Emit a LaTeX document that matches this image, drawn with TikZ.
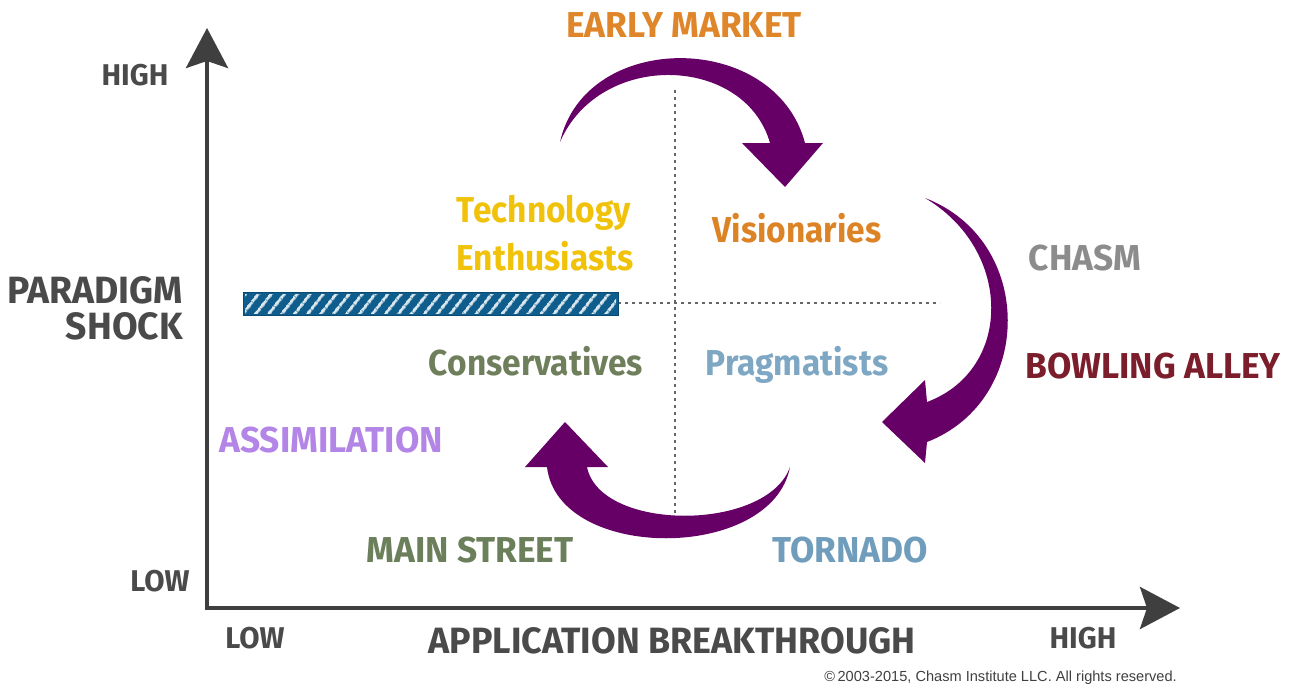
\documentclass[tikz,border=0pt]{standalone}
\usepackage{fontspec}
\setmainfont{Fira Sans}[FakeStretch=0.93]
\newfontfamily\capfont{Fira Sans}[FakeStretch=0.98]
\newfontfamily\copyfont{Liberation Sans}
\usetikzlibrary{arrows.meta,patterns.meta}
\definecolor{axisgray}{HTML}{3F3F3F}
\definecolor{lblgray}{HTML}{4A4A4A}
\definecolor{cEarly}{HTML}{E0862A}
\definecolor{cTech}{HTML}{F0C20A}
\definecolor{cVis}{HTML}{DC8326}
\definecolor{cChasm}{HTML}{8C8C8C}
\definecolor{cBowl}{HTML}{7B1D2B}
\definecolor{cCons}{HTML}{6F7F5C}
\definecolor{cPrag}{HTML}{7EA7C4}
\definecolor{cAssim}{HTML}{B385E6}
\definecolor{cMain}{HTML}{6B7F5B}
\definecolor{cTorn}{HTML}{6F9DBB}
\definecolor{cPurple}{HTML}{660066}
\definecolor{cBar}{HTML}{0E5D8C}
\begin{document}
\begin{tikzpicture}[x=1pt,y=-1pt,
  lbl/.style={font=\bfseries\fontsize{36}{36}\selectfont, anchor=base, inner sep=0pt},
  caplbl/.style={font=\capfont\bfseries\fontsize{36}{36}\selectfont, anchor=base, inner sep=0pt},
  axlbl/.style={font=\capfont\bfseries\fontsize{30}{30}\selectfont, anchor=base, inner sep=0pt, text=lblgray},
  biglbl/.style={font=\capfont\bfseries\fontsize{38}{38}\selectfont, anchor=base, inner sep=0pt, text=lblgray},
  axisline/.style={line width=4pt, draw=axisgray, -{Stealth[length=40pt,width=42pt,inset=7pt]}},
  dotline/.style={draw=gray!80!black, line width=2.6pt, dash pattern=on 2.6pt off 4.4pt},
  cyclearrow/.style={fill=cPurple}]
\useasboundingbox (0,0) rectangle (1294,696);

% dotted quadrant lines
\coordinate (vtop) at (675,90);
\coordinate (vbot) at (675,525);
\coordinate (hleft) at (618,303);
\coordinate (hright) at (940,303);
\draw[dotline] (vtop) -- (vbot);
\draw[dotline] (hleft) -- (hright);

% hatched bar
\fill[cBar] (243,292) rectangle (618,315);
\fill[pattern={Lines[angle=52,distance=10.5pt,line width=3.2pt]}, pattern color=white!85!cBar] (245,294) rectangle (616,313);
\draw[cBar!80!black, line width=1pt] (243,292) rectangle (618,315);

% axes
\coordinate (origin) at (207,608);
\coordinate (ytip) at (207,28);
\coordinate (xstart) at (205,608);
\coordinate (xtip) at (1180,608);
\draw[axisline] (origin) -- (ytip);
\draw[axisline] (xstart) -- (xtip);

% cycle arrows
\fill[cyclearrow] (560,142) .. controls (585,30) and (775,30) .. (805,143)
  -- (823,143) -- (785,187) -- (742,143) -- (770,143)
  .. controls (745,55) and (600,50) .. (560,142) -- cycle;
\fill[cyclearrow] (925,198) .. controls (1035,240) and (1035,400) .. (927,442)
  -- (925,463) -- (882,422) -- (925,380) -- (927,402)
  .. controls (1013,370) and (1013,250) .. (925,198) -- cycle;
\fill[cyclearrow] (790,467) .. controls (772,562) and (558,562) .. (547,467)
  -- (525,467) -- (565,422) -- (608,467) -- (587,467)
  .. controls (600,532) and (767,532) .. (790,467) -- cycle;

% axis labels
\node[axlbl] (yhigh) at (135,85) {HIGH};
\node[axlbl] (ylow) at (160,591) {LOW};
\node[axlbl] (xlow) at (255,648) {LOW};
\node[axlbl] (xhigh) at (1083,648) {HIGH};
\node[biglbl, anchor=base east] (para) at (183,303) {PARADIGM};
\node[biglbl, anchor=base east] (shock) at (183,339) {SHOCK};
\node[biglbl, font=\capfont\bfseries\fontsize{36.6}{36.6}\selectfont] (appl) at (672,653) {APPLICATION BREAKTHROUGH};

% region labels
\node[caplbl, text=cEarly] (early) at (684,37) {EARLY MARKET};
\node[lbl, text=cTech] (tech1) at (544,222) {Technology};
\node[lbl, text=cTech] (tech2) at (545,270) {Enthusiasts};
\node[lbl, text=cVis] (vis) at (797,242) {Visionaries};
\node[caplbl, text=cChasm] (chasm) at (1085,270) {CHASM};
\node[caplbl, text=cBowl] (bowl) at (1153,378) {BOWLING ALLEY};
\node[lbl, text=cCons] (cons) at (536,375) {Conservatives};
\node[lbl, text=cPrag] (prag) at (797,375) {Pragmatists};
\node[caplbl, text=cAssim] (assim) at (331,452) {ASSIMILATION};
\node[caplbl, text=cMain] (mainst) at (470,562) {MAIN STREET};
\node[caplbl, text=cTorn] (torn) at (850,562) {TORNADO};

% copyright
\node[font=\copyfont\fontsize{14.6}{14.6}\selectfont, text=axisgray, anchor=base east, inner sep=0pt] (copy) at (1177,681) {\textcopyright\,2003-2015, Chasm Institute LLC. All rights reserved.};
\end{tikzpicture}
\end{document}
